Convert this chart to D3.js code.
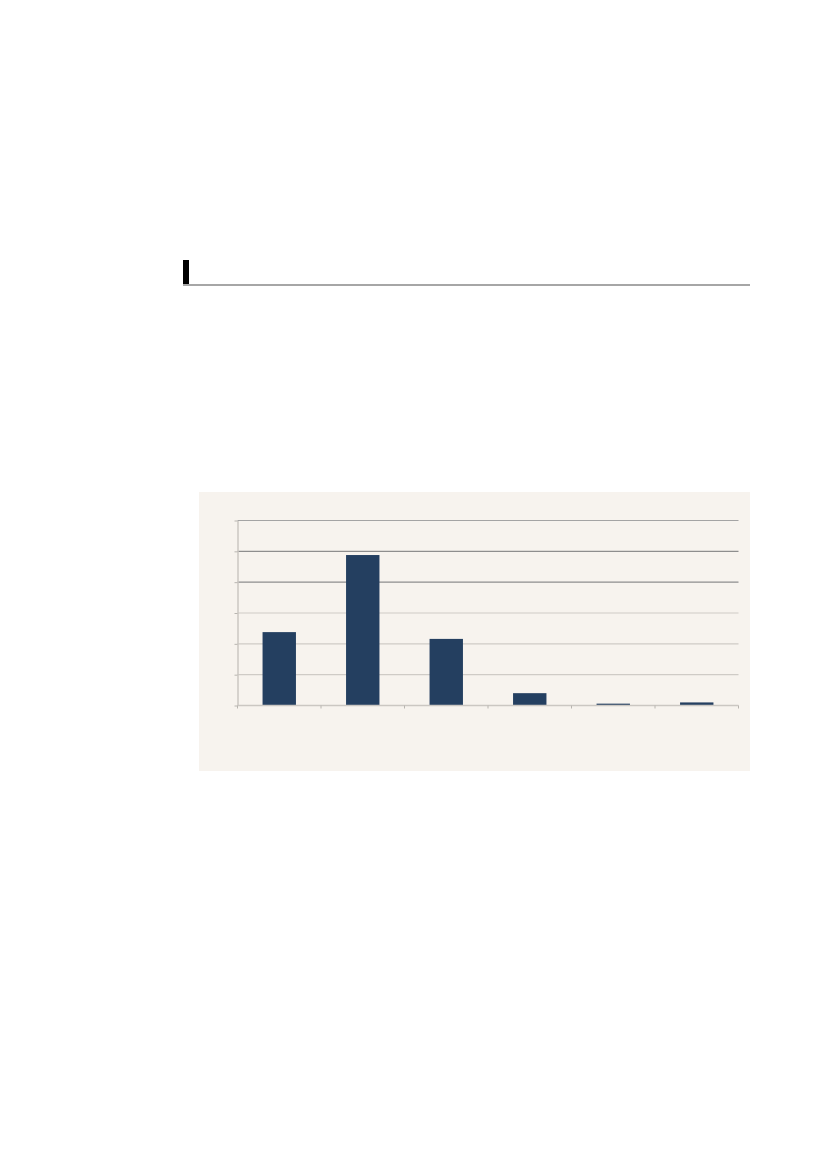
<!DOCTYPE html>
<html>
<head>
<meta charset="utf-8">
<script src="https://cdn.jsdelivr.net/npm/d3@7"></script>
<style>
  body { margin: 0; background: #ffffff; }
  svg { display: block; }
</style>
</head>
<body>
<script>
// data (no labels are printed in the chart)
var categories = ["1", "2", "3", "4", "5", "6"];
var values = [23.8, 48.8, 21.6, 4.0, 0.6, 1.0];
var yTicks = [0, 10, 20, 30, 40, 50, 60];

var svg = d3.select("body").append("svg")
    .attr("width", 827)
    .attr("height", 1169);

// section header: black block + grey rule
svg.append("rect")
    .attr("x", 183).attr("y", 260)
    .attr("width", 6).attr("height", 25)
    .attr("fill", "#000");
svg.append("rect")
    .attr("x", 183).attr("y", 284)
    .attr("width", 567).attr("height", 2)
    .attr("fill", "#a6a6a6");

// chart panel
svg.append("rect")
    .attr("x", 199).attr("y", 492)
    .attr("width", 551).attr("height", 279)
    .attr("fill", "#f7f3ee");

var plotLeft = 237.5, plotRight = 738.5, plotTop = 520.5, plotBottom = 705.5;

var x = d3.scaleBand()
    .domain(categories)
    .range([plotLeft, plotRight])
    .paddingInner(0.6)
    .paddingOuter(0.3);

var y = d3.scaleLinear()
    .domain([0, 60])
    .range([plotBottom, plotTop]);

var chart = svg.append("g");

// gridlines
function gridColor(v) {
    if (v == 60) return "#a4a4a4";
    if (v == 50 || v == 40) return "#8e8e8e";
    return "#cfcbc6";
}
chart.selectAll("line.grid")
    .data(yTicks.filter(function(d) { return d > 0; }))
    .enter().append("line")
    .attr("class", "grid")
    .attr("x1", plotLeft).attr("x2", plotRight)
    .attr("y1", function(d) { return y(d); })
    .attr("y2", function(d) { return y(d); })
    .attr("stroke", gridColor)
    .attr("stroke-width", 1.2);

// y axis
var yAxis = chart.append("g")
    .attr("transform", "translate(" + plotLeft + ",0)")
    .call(d3.axisLeft(y).tickValues(yTicks).tickSize(3).tickSizeOuter(0).tickFormat(""));
yAxis.select(".domain").attr("stroke", "#cbc7c2").attr("stroke-width", 1.5);
yAxis.selectAll(".tick line").attr("stroke", "#b8b5b0");

// bars
chart.selectAll("rect.bar")
    .data(values)
    .enter().append("rect")
    .attr("class", "bar")
    .attr("x", function(d, i) { return x(categories[i]); })
    .attr("width", x.bandwidth())
    .attr("y", function(d) { return y(d); })
    .attr("height", function(d) { return y(0) - y(d); })
    .attr("fill", "#243f60");

// x axis with ticks between categories
var edges = categories.map(function(c) { return x(c) - x.step() * x.paddingOuter(); });
edges.push(plotRight);
var xAxis = chart.append("g");
xAxis.append("line")
    .attr("x1", plotLeft).attr("x2", plotRight)
    .attr("y1", plotBottom).attr("y2", plotBottom)
    .attr("stroke", "#cbc7c2")
    .attr("stroke-width", 1.5);
xAxis.selectAll("line.tick")
    .data(edges)
    .enter().append("line")
    .attr("class", "tick")
    .attr("x1", function(d) { return d; })
    .attr("x2", function(d) { return d; })
    .attr("y1", plotBottom).attr("y2", plotBottom + 3)
    .attr("stroke", "#b8b5b0");
</script>
</body>
</html>
